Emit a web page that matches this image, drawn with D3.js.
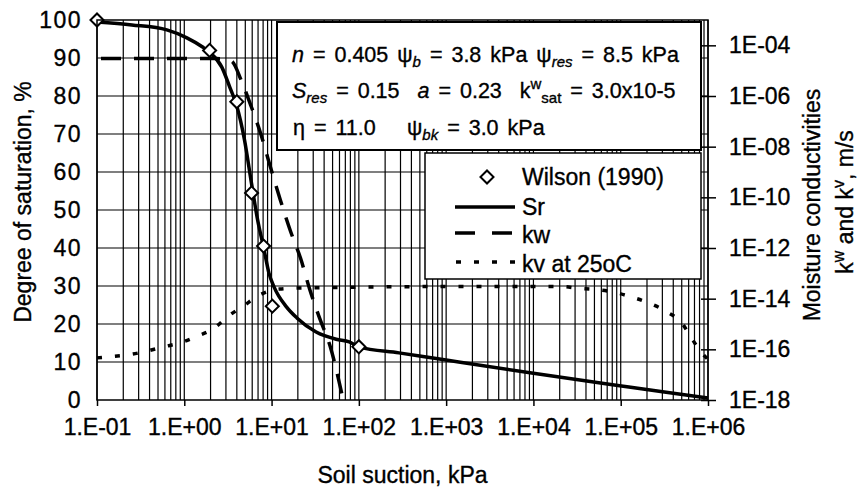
<!DOCTYPE html>
<html>
<head>
<meta charset="utf-8">
<script src="https://cdn.jsdelivr.net/npm/d3@7/dist/d3.min.js"></script>
<style>
  body { margin: 0; background: #fff; }
  text { font-family: "Liberation Sans", Arial, sans-serif; fill: #000; white-space: pre;
         stroke: #000; stroke-width: 0.35px; }
</style>
</head>
<body>
<div id="chart"></div>
<script>
// degree of saturation curve (Sr), suction in kPa, Sr in %
const srSuction = [0.1, 0.251, 0.631, 1.07, 1.62, 1.95, 2.69, 3.31, 3.98, 4.9, 5.89, 6.92, 8.13, 9.33,
  10.7, 14.8, 19.5, 32.4, 55, 77.6, 100, 288, 1000, 9550, 102000, 316000, 1000000];
const srValues = [99.5, 98.7, 97.4, 95.3, 92.9, 91.5, 87.6, 82.4, 77.5, 68.4, 57, 47.4, 40, 33.4,
  29.7, 24.5, 21.6, 17.9, 16, 15.3, 14, 12.4, 10.5, 7.1, 3.7, 2.1, 0.5];

// Wilson (1990) measurements
const wilsonSuction = [0.1, 1.95, 4.0, 5.9, 8.1, 10.2, 100];
const wilsonSr = [100, 92, 78.5, 54.5, 40.5, 24.7, 14];

// liquid water conductivity kw, m/s
const kwSuction = [0.1, 2.34, 3.02, 3.58, 4.47, 5.75, 7.59, 9.33, 12.6, 16.6, 21.4, 27.5, 35.5, 46.8, 66.1];
const kwValues = [3.0e-5, 3.0e-5, 2.9e-5, 2.2e-5, 4.3e-6, 4.5e-7, 2.9e-8, 2.5e-9, 7.9e-11, 4.3e-12,
  4.1e-13, 2.2e-14, 1.7e-15, 1.35e-16, 1e-18];

// vapour conductivity kv at 25oC, m/s
const kvSuction = [0.1, 0.13, 0.22, 0.336, 0.568, 0.89, 1.43, 2.12, 3.23, 4.91, 7.29, 12.3, 18.3,
  1000, 21400, 31600, 51300, 83200, 129000, 209000, 339000, 501000, 646000, 851000, 1000000];
const kvValues = [4.6e-17, 5.0e-17, 6.0e-17, 7.8e-17, 1.23e-16, 1.8e-16, 3.4e-16, 6.3e-16, 2.1e-15,
  5.6e-15, 1.4e-14, 2.4e-14, 2.6e-14, 3.0e-14, 3.0e-14, 2.6e-14, 2.3e-14, 1.8e-14, 1.2e-14, 6.8e-15,
  3.0e-15, 1.1e-15, 2.8e-16, 7.2e-17, 4.0e-17];

const xTicks = [0.1, 1, 10, 100, 1e3, 1e4, 1e5, 1e6];
const srTicks = [0, 10, 20, 30, 40, 50, 60, 70, 80, 90, 100];
const kTicks = [1e-18, 1e-16, 1e-14, 1e-12, 1e-10, 1e-8, 1e-6, 1e-4];

const legendLabels = ['Wilson (1990)', 'Sr', 'kw', 'kv at 25oC'];

const W = 861, H = 488;
const margin = { top: 20, right: 153, bottom: 88, left: 97 };
const innerW = W - margin.left - margin.right;
const innerH = H - margin.top - margin.bottom;

const svg = d3.select('#chart').append('svg')
  .attr('width', W).attr('height', H);

const x = d3.scaleLog().domain([0.1, 1e6]).range([margin.left, margin.left + innerW]);
const yS = d3.scaleLinear().domain([0, 100]).range([margin.top + innerH, margin.top]);
const yK = d3.scaleLog().domain([1e-18, 1e-3]).range([margin.top + innerH, margin.top]);

// grid
const minor = [];
for (let d = -1; d < 6; d++) {
  for (let m = 1; m < 10; m++) minor.push(m * Math.pow(10, d));
}
minor.push(1e6);

const grid = svg.append('g').attr('stroke', '#000').attr('stroke-width', 1.2);
grid.selectAll('.vg').data(minor).join('line')
  .attr('x1', d => x(d)).attr('x2', d => x(d))
  .attr('y1', margin.top).attr('y2', margin.top + innerH);
grid.selectAll('.hg').data(srTicks.slice(1, -1)).join('line')
  .attr('x1', margin.left).attr('x2', margin.left + innerW)
  .attr('y1', d => yS(d)).attr('y2', d => yS(d));

// parameter box
svg.append('rect')
  .attr('x', 277).attr('y', 22).attr('width', 424).attr('height', 128)
  .attr('fill', '#fff').attr('stroke', '#000').attr('stroke-width', 2);

// legend box
svg.append('rect')
  .attr('x', 425).attr('y', 153).attr('width', 276).attr('height', 126)
  .attr('fill', '#fff').attr('stroke', '#000').attr('stroke-width', 1.5);

function richText(parent, px, py, parts, size) {
  const t = parent.append('text').attr('x', px).attr('y', py)
    .style('font-size', size + 'px').style('word-spacing', '3px');
  let shift = 0;
  parts.forEach(p => {
    const target = p.sub ? 5 : p.sup ? -9 : 0;
    const ts = t.append('tspan').text(p.t).attr('dy', target - shift);
    shift = target;
    if (p.i) ts.style('font-style', 'italic');
    if (p.sub || p.sup) ts.style('font-size', Math.round(size * 0.68) + 'px');
  });
  return t;
}

richText(svg, 292, 62, [
  { t: 'n', i: 1 }, { t: ' = 0.405 ψ' }, { t: 'b', i: 1, sub: 1 }, { t: ' = 3.8 kPa ψ' },
  { t: 'res', i: 1, sub: 1 }, { t: ' = 8.5 kPa' }], 21.5);
richText(svg, 292, 98, [
  { t: 'S', i: 1 }, { t: 'res', i: 1, sub: 1 }, { t: ' = 0.15  ' }, { t: 'a', i: 1 },
  { t: ' = 0.23  k' }, { t: 'w', sup: 1 }, { t: 'sat', sub: 1 }, { t: ' = 3.0x10-5' }], 21.5);
richText(svg, 293, 135, [{ t: 'η = 11.0' }], 21.5);
richText(svg, 407, 135, [{ t: 'ψ' }, { t: 'bk', i: 1, sub: 1 }, { t: ' = 3.0 kPa' }], 21.5);

// curves
const srLine = d3.line().curve(d3.curveMonotoneX)
  .x((d, i) => x(srSuction[i])).y(d => yS(d));
const kwLine = d3.line().curve(d3.curveMonotoneX)
  .x((d, i) => x(kwSuction[i])).y(d => yK(d));
const kvLine = d3.line().curve(d3.curveMonotoneX)
  .x((d, i) => x(kvSuction[i])).y(d => yK(d));

svg.append('path').datum(kvValues).attr('d', kvLine)
  .attr('fill', 'none').attr('stroke', '#000').attr('stroke-width', 3.5)
  .attr('stroke-dasharray', '5,13');
svg.append('path').datum(kwValues).attr('d', kwLine)
  .attr('fill', 'none').attr('stroke', '#000').attr('stroke-width', 3.5)
  .attr('stroke-dasharray', '20,13').attr('stroke-dashoffset', -4);
svg.append('path').datum(srValues).attr('d', srLine)
  .attr('fill', 'none').attr('stroke', '#000').attr('stroke-width', 3.5);

const diamond = d3.symbol().type(d3.symbolSquare).size(85);
svg.selectAll('.pt').data(wilsonSr).join('path')
  .attr('d', diamond)
  .attr('transform', (d, i) => `translate(${x(wilsonSuction[i])},${yS(d)}) rotate(45)`)
  .attr('fill', '#fff').attr('stroke', '#000').attr('stroke-width', 2);

// frame
svg.append('rect')
  .attr('x', margin.left).attr('y', margin.top).attr('width', innerW).attr('height', innerH)
  .attr('fill', 'none').attr('stroke', '#000').attr('stroke-width', 1.5);

// axes
const expStr = e => String(Math.abs(e)).padStart(2, '0');
const xAxis = svg.append('g')
  .attr('transform', `translate(0,${margin.top + innerH})`)
  .call(d3.axisBottom(x).tickValues(xTicks).tickSize(6).tickPadding(13)
    .tickFormat(d => {
      const e = Math.round(Math.log10(d));
      return '1.E' + (e < 0 ? '-' : '+') + expStr(e);
    }));
xAxis.select('.domain').remove();
xAxis.selectAll('line').attr('stroke', '#000').attr('stroke-width', 1.5);
xAxis.selectAll('text').style('font-size', '23px').attr('fill', '#000');

const yAxis = svg.append('g')
  .attr('transform', `translate(${margin.left},0)`)
  .call(d3.axisLeft(yS).tickValues(srTicks).tickSize(0).tickPadding(15));
yAxis.select('.domain').remove();
yAxis.selectAll('text').style('font-size', '23px').style('letter-spacing', '1.5px').attr('fill', '#000');

const kAxis = svg.append('g')
  .attr('transform', `translate(${margin.left + innerW},0)`)
  .call(d3.axisRight(yK).tickValues(kTicks).tickSize(8).tickPadding(13)
    .tickFormat(d => '1E-' + expStr(Math.round(Math.log10(d)))));
kAxis.select('.domain').remove();
kAxis.selectAll('line').attr('x1', -7).attr('stroke', '#000').attr('stroke-width', 1.5);
kAxis.selectAll('text').style('font-size', '23px').attr('fill', '#000');

// axis titles
svg.append('text')
  .attr('x', margin.left + innerW / 2).attr('y', 483)
  .attr('text-anchor', 'middle').style('font-size', '23px')
  .text('Soil suction, kPa');
svg.append('text')
  .attr('transform', 'translate(31,202) rotate(-90)')
  .attr('text-anchor', 'middle').style('font-size', '23px')
  .text('Degree of saturation, %');
svg.append('text')
  .attr('transform', 'translate(820,205) rotate(-90)')
  .attr('text-anchor', 'middle').style('font-size', '23px')
  .text('Moisture conductivities');
const rt = svg.append('g').attr('transform', 'translate(853,202) rotate(-90)');
richText(rt, 0, 0, [{ t: 'k' }, { t: 'w', sup: 1 }, { t: ' and k' }, { t: 'v', sup: 1 }, { t: ', m/s' }], 23)
  .attr('text-anchor', 'middle').style('word-spacing', '0px');

// legend
const lg = svg.append('g');
const rowsY = [185, 214.5, 243, 272];
lg.selectAll('.lt').data(legendLabels).join('text')
  .attr('x', 522).attr('y', (d, i) => rowsY[i])
  .style('font-size', '23px').text(d => d);
lg.append('path').attr('d', diamond)
  .attr('transform', 'translate(487,177) rotate(45)')
  .attr('fill', '#fff').attr('stroke', '#000').attr('stroke-width', 2);
lg.append('line').attr('x1', 455).attr('x2', 515).attr('y1', 207).attr('y2', 207)
  .attr('stroke', '#000').attr('stroke-width', 3.5);
lg.append('line').attr('x1', 455).attr('x2', 512).attr('y1', 233).attr('y2', 233)
  .attr('stroke', '#000').attr('stroke-width', 3.5).attr('stroke-dasharray', '20,17');
lg.append('line').attr('x1', 456).attr('x2', 516).attr('y1', 262).attr('y2', 262)
  .attr('stroke', '#000').attr('stroke-width', 3.5).attr('stroke-dasharray', '5,13');
</script>
</body>
</html>
